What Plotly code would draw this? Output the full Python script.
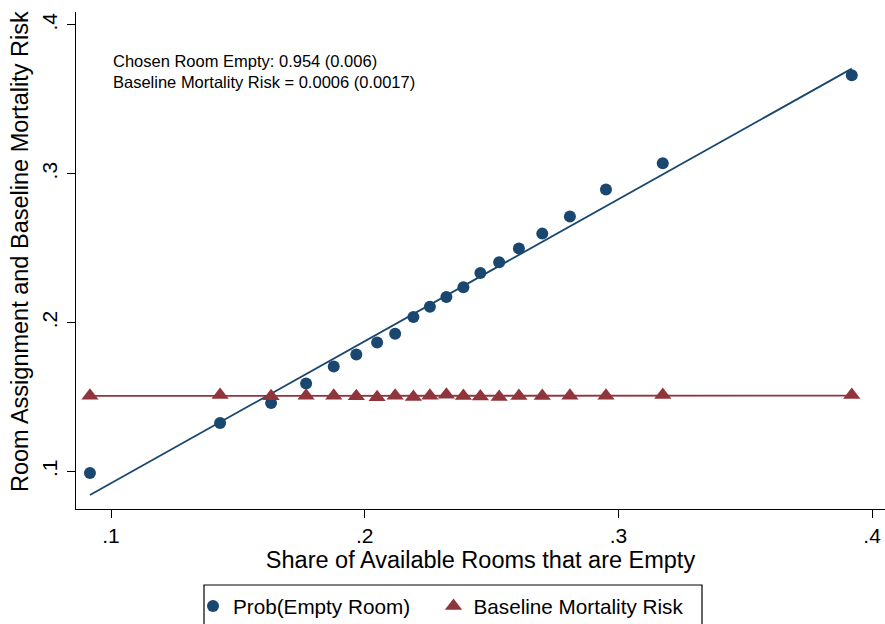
import plotly.graph_objects as go

# Binned averages by share of available rooms that are empty
bin_share_empty = [0.0917, 0.1430, 0.1631, 0.1769, 0.1878, 0.1967, 0.2049, 0.2120,
                   0.2192, 0.2257, 0.2322, 0.2389, 0.2456, 0.2530, 0.2608, 0.2700,
                   0.2809, 0.2951, 0.3175, 0.3920]
prob_empty_room = [0.0989, 0.1325, 0.1459, 0.1591, 0.1705, 0.1786, 0.1866, 0.1925,
                   0.2037, 0.2106, 0.2172, 0.2238, 0.2333, 0.2406, 0.2498, 0.2598,
                   0.2713, 0.2894, 0.3071, 0.3662]
baseline_risk = [0.1508, 0.1514, 0.1505, 0.1508, 0.1508, 0.1505, 0.1499, 0.1508,
                 0.1500, 0.1508, 0.1516, 0.1507, 0.1503, 0.1500, 0.1507, 0.1507,
                 0.1508, 0.1508, 0.1513, 0.1513]

# Linear fits (slope, intercept)
empty_fit = (0.954, -0.0033)
risk_fit = (0.0006, 0.1507)

x_ticks = [0.1, 0.2, 0.3, 0.4]
x_tick_text = [".1", ".2", ".3", ".4"]
y_ticks = [0.1, 0.2, 0.3, 0.4]
y_tick_text = [".1", ".2", ".3", ".4"]

NAVY = "#1a476f"
MAROON = "#90353b"
FONT = "Liberation Sans, Arial, sans-serif"

x_ends = [bin_share_empty[0], bin_share_empty[-1]]

fig = go.Figure()
fig.add_trace(go.Scatter(
    x=x_ends, y=[risk_fit[1] + risk_fit[0] * v for v in x_ends],
    mode="lines", line=dict(color=MAROON, width=1.8), showlegend=False, hoverinfo="skip"))
fig.add_trace(go.Scatter(
    x=x_ends, y=[empty_fit[1] + empty_fit[0] * v for v in x_ends],
    mode="lines", line=dict(color=NAVY, width=1.8), showlegend=False, hoverinfo="skip"))
fig.add_trace(go.Scatter(
    x=bin_share_empty, y=prob_empty_room, mode="markers", name="Prob(Empty Room)",
    marker=dict(symbol="circle", size=12, color=NAVY), legend="legend"))
fig.add_trace(go.Scatter(
    x=bin_share_empty, y=baseline_risk, mode="markers", name="Baseline Mortality Risk",
    marker=dict(symbol="triangle-up", size=15, color=MAROON), legend="legend2"))

W, H = 885, 624
ML, MR, MT, MB = 76, 0, 12, 115
PW, PH = W - ML - MR, H - MT - MB


def px_x(p):
    return (p - ML) / PW


def px_y(p):
    return (H - MB - p) / PH


def legend_at(left_px, top_px):
    return dict(orientation="h", xref="container", yref="container",
                x=left_px / W, xanchor="left", y=(H - top_px) / H, yanchor="top",
                bgcolor="rgba(0,0,0,0)", borderwidth=0,
                font=dict(size=20.7, family=FONT))


fig.update_layout(
    width=W, height=H,
    margin=dict(l=ML, r=MR, t=MT, b=MB, pad=0, autoexpand=False),
    paper_bgcolor="white", plot_bgcolor="white",
    font=dict(family=FONT, size=21, color="black"),
    xaxis=dict(range=[0.0862, 0.4051], tickvals=x_ticks, ticktext=x_tick_text,
               showgrid=False, zeroline=False, showline=True, linecolor="black",
               linewidth=1.2, ticks="outside", ticklen=8, tickwidth=1.2,
               tickcolor="black", tickfont=dict(size=21),
               title=dict(text="Share of Available Rooms that are Empty",
                          font=dict(size=23.5), standoff=4)),
    yaxis=dict(range=[0.07475, 0.40873], tickvals=y_ticks, ticktext=y_tick_text,
               showgrid=False, zeroline=False, showline=True, linecolor="black",
               linewidth=1.2, ticks="outside", ticklen=8, tickwidth=1.2,
               tickcolor="black", tickangle=-90, tickfont=dict(size=21),
               ticklabelstandoff=2),
    legend=legend_at(193, 586),
    legend2=legend_at(433.5, 586),
    showlegend=True,
)

# Frame around the legend keys
fig.add_shape(type="rect", xref="paper", yref="paper",
              x0=px_x(204), x1=px_x(702), y0=px_y(585), y1=px_y(632),
              line=dict(color="black", width=1.2), fillcolor="rgba(0,0,0,0)")

# Y-axis title
fig.add_annotation(xref="paper", yref="paper", x=px_x(20), y=px_y(252),
                   text="Room Assignment and Baseline Mortality Risk",
                   textangle=-90, showarrow=False, xanchor="center", yanchor="middle",
                   font=dict(size=23.5, family=FONT))

# Regression coefficients
fig.add_annotation(xref="paper", yref="paper", x=px_x(111), y=px_y(71.3),
                   text="Chosen Room Empty: 0.954 (0.006)<br>Baseline Mortality Risk = 0.0006 (0.0017)",
                   showarrow=False, xanchor="left", yanchor="middle", align="left",
                   font=dict(size=16.5, family=FONT))

fig.write_html("out.html")
